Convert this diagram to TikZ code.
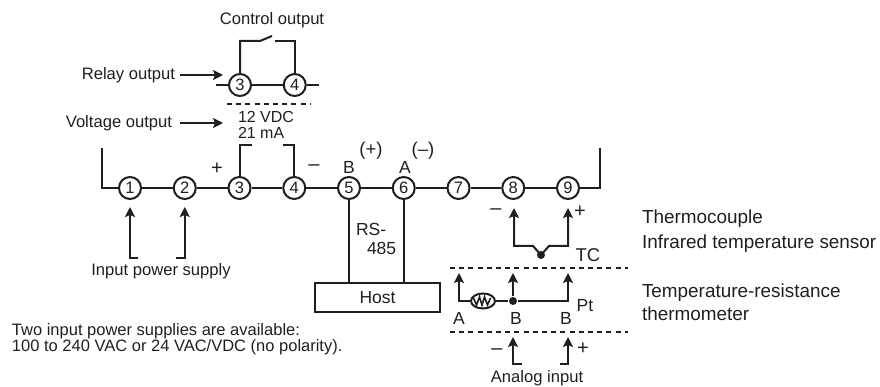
\documentclass[tikz,border=0pt]{standalone}
\usepackage{fontspec}
\setmainfont{Liberation Sans}
\usepackage{tikz}
\usetikzlibrary{arrows.meta,shapes.geometric}

\begin{document}
\begin{tikzpicture}[x=1pt,y=-1pt,>={Stealth[length=10pt,width=10pt,inset=2pt]},node distance=54.75pt,
  line width=2pt,color={black!88},
  term node/.style={circle,fill=white,draw,inner sep=0pt,minimum size=22pt,line width=2pt,font=\fontsize{16.5}{16.5}\selectfont},
  txt node/.style={inner sep=0pt,font=\fontsize{16.6}{18}\selectfont},
  lab node/.style={inner sep=0pt,font=\fontsize{17.5}{18}\selectfont},
  sign node/.style={inner sep=0pt,font=\fontsize{20}{20}\selectfont},
  side node/.style={inner sep=0pt,anchor=base west,font=\fontsize{18.9}{20}\selectfont},
  left node/.style={txt node,anchor=west},
  sep line/.style={dash pattern=on 5pt off 4.2pt,line width=2pt},
  dot node/.style={circle,fill,inner sep=0pt,minimum size=8pt}]
  \useasboundingbox (0,0) rectangle (880,387);

  % main terminal row
  \node[term node] (1) at (130,188) {1};
  \node[term node] (2) [right of=1] {2};
  \node[term node] (3) [right of=2] {3};
  \node[term node] (4) [right of=3] {4};
  \node[term node] (5) [right of=4] {5};
  \node[term node] (6) [right of=5] {6};
  \node[term node] (7) [right of=6] {7};
  \node[term node] (8) [right of=7] {8};
  \node[term node] (9) [right of=8] {9};
  \coordinate (railL) at (102,148);
  \coordinate (railR) at (600,148);
  \draw (railL) |- (1);
  \draw (railR) |- (9);
  \draw (1) -- (2);
  \draw (2) -- (3);
  \draw (3) -- (4);
  \draw (4) -- (5);
  \draw (5) -- (6);
  \draw (6) -- (7);
  \draw (7) -- (8);
  \draw (8) -- (9);

  % relay output
  \node[term node] (r3) at (240,85) {3};
  \node[term node] (r4) [right of=r3] {4};
  \coordinate (stubL) at (216,85);
  \coordinate (stubR) at (319,85);
  \coordinate (swA) at (260,41);
  \coordinate (swB) at (272,36);
  \coordinate (swC) at (275,41);
  \draw (stubL) -- (r3);
  \draw (r3) -- (r4);
  \draw (r4) -- (stubR);
  \draw (r3) |- (swA) -- (swB);
  \draw (r4) |- (swC);
  \node[txt node] (ctrl) at (272,20) {Control output};
  \node[txt node,anchor=east] (relay) at (176,75) {Relay output};
  \coordinate (relayTip) at (223,75);
  \draw[->] (relay.east) ++(4,0) -- (relayTip);
  \draw[sep line] (227,104) -- (310,104);

  % voltage output
  \node[txt node,anchor=east] (volt) at (173,123) {Voltage output};
  \coordinate (voltTip) at (223,123);
  \draw[->] (volt.east) ++(7,0) -- (voltTip);
  \node[left node,font=\fontsize{16}{16}\selectfont] (vdc) at (237,117) {12 VDC};
  \node[left node,font=\fontsize{16}{16}\selectfont] (ma) at (237,133) {21 mA};
  \coordinate (brA) at (252,145);
  \coordinate (brB) at (283,145);
  \draw (3) |- (brA);
  \draw (4) |- (brB);
  \node[sign node] (plus) at (217,169) {+};
  \node[sign node] (minus) at (314,168) {--};

  % RS-485
  \node[lab node] (labB) at (349,167) {B};
  \node[lab node,font=\fontsize{18.5}{18}\selectfont] (labBp) at (371,151) {(+)};
  \node[lab node] (labA) at (405,167) {A};
  \node[lab node,font=\fontsize{18.5}{18}\selectfont] (labAm) at (423,151) {(--)};
  \node[draw,minimum width=125pt,minimum height=29pt,inner sep=0pt,font=\fontsize{17.5}{18}\selectfont] (host) at (377.5,297.5) {Host};
  \draw (5) -- (5 |- host.north);
  \draw (6) -- (6 |- host.north);
  \node[left node,font=\fontsize{17.5}{18}\selectfont] (rs) at (355,229) {RS-};
  \node[left node,font=\fontsize{17.5}{18}\selectfont] (num) at (366,248) {485};

  % input power supply
  \coordinate (psA) at (138,258);
  \coordinate (psB) at (176,258);
  \coordinate (psTipA) at (130,207);
  \coordinate (psTipB) at (184.75,207);
  \draw[->] (psA) -| (psTipA);
  \draw[->] (psB) -| (psTipB);
  \node[txt node] (ps) at (161,271) {Input power supply};
  \node[left node,font=\fontsize{16.5}{15.5}\selectfont,align=left] (note) at (11,339) {Two input power supplies are available:\\100 to 240 VAC or 24 VAC/VDC (no polarity).};

  % thermocouple
  \node[dot node] (tcdot) at (541,255) {};
  \coordinate (tcA) at (533,246);
  \coordinate (tcB) at (549,246);
  \coordinate (tcTipA) at (514,208);
  \coordinate (tcTipB) at (568,208);
  \draw[->] (tcdot.center) -- (tcA) -| (tcTipA);
  \draw[->] (tcdot.center) -- (tcB) -| (tcTipB);
  \node[sign node] (tcm) at (496,212) {--};
  \node[sign node] (tcp) at (580,212) {+};
  \node[lab node,font=\fontsize{18.5}{18}\selectfont] (tc) at (588,255) {TC};
  \node[side node] (therm) at (641,224) {Thermocouple};
  \node[side node] (infra) at (641,248) {Infrared temperature sensor};
  \draw[sep line] (450,268) -- (628,268);

  % resistance thermometer
  \node[draw,ellipse,fill=white,minimum width=24pt,minimum height=15pt,inner sep=0pt] (res) at (483,301) {};
  \node[dot node] (ptdot) at (513,301) {};
  \coordinate (ptA) at (459,273);
  \coordinate (ptB) at (513,273);
  \coordinate (ptC) at (568,273);
  \draw[->] (res) -| (ptA);
  \draw (res) -- (ptdot);
  \draw[->] (ptdot) -- (ptB);
  \draw[->] (ptdot) -| (ptC);
  \draw[line width=1.6pt] (res.west) ++(3.5,-3) -- ++(3,7) -- ++(3,-8) -- ++(2.5,8) -- ++(2.5,-8) -- ++(3,8) -- ++(3,-7);
  \node[lab node] (labA2) at (459,318) {A};
  \node[lab node] (labB2) at (516,318) {B};
  \node[lab node] (labB3) at (566,318) {B};
  \node[lab node] (pt) at (585,306) {Pt};
  \node[side node] (tr1) at (641,297) {Temperature-resistance};
  \node[side node] (tr2) at (641,320) {thermometer};
  \draw[sep line] (450,332) -- (628,332);

  % analog input
  \coordinate (anA) at (522,364);
  \coordinate (anB) at (560,364);
  \coordinate (anTipA) at (513,337);
  \coordinate (anTipB) at (568,337);
  \draw[->] (anA) -| (anTipA);
  \draw[->] (anB) -| (anTipB);
  \node[sign node] (anm) at (497,352) {--};
  \node[sign node] (anp) at (583,349) {+};
  \node[txt node] (an) at (537,378) {Analog input};
\end{tikzpicture}
\end{document}
